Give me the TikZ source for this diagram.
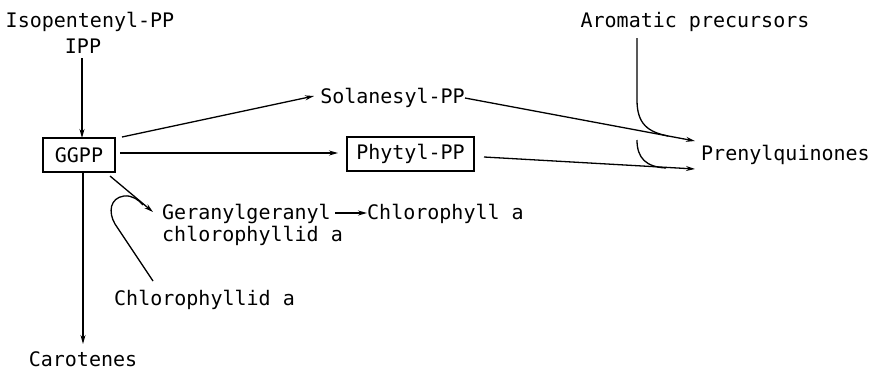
\documentclass[tikz,border=0pt]{standalone}
\usepackage{fontspec}
\newfontfamily\dmono{DejaVu Sans Mono}
\usetikzlibrary{arrows.meta}
\begin{document}
\begin{tikzpicture}[x=1pt,y=-1pt,
  txt/.style={inner sep=0pt, font=\dmono\fontsize{20}{22}\selectfont},
  boxnode/.style={draw, line width=1.5pt, inner sep=0pt, font=\dmono\fontsize{20}{22}\selectfont},
  conn/.style={line width=1.3pt},
  arr/.style={conn, -{Stealth[length=9pt,width=5pt]}}]
\useasboundingbox (0,0) rectangle (873,370);
% text nodes
\node[txt, anchor=base] (iso) at (90,27) {Isopentenyl-PP};
\node[txt, anchor=base] (ipp) at (83,53) {IPP};
\node[boxnode, minimum width=72pt, minimum height=34pt] (ggpp) at (79,155) {GGPP};
\node[boxnode, minimum width=127pt, minimum height=34pt] (phytyl) at (410.5,154) {Phytyl-PP};
\node[txt, anchor=base] (sol) at (392.5,103) {Solanesyl-PP};
\node[txt, anchor=base west] (pren) at (701,160) {Prenylquinones};
\node[txt, anchor=base] (arom) at (695,27) {Aromatic precursors};
\node[txt, anchor=base west] (gg1) at (162,219) {Geranylgeranyl};
\node[txt, anchor=base west] (gg2) at (162,241) {chlorophyllid a};
\node[txt, anchor=base west] (chla) at (367,219) {Chlorophyll a};
\node[txt, anchor=base west] (chlid) at (114,305) {Chlorophyllid a};
\node[txt, anchor=base] (car) at (83,366) {Carotenes};
% connector coordinates
\coordinate (ippout) at (82,58);
\coordinate (ggin) at (82,138);
\coordinate (ggdown) at (83,172);
\coordinate (carin) at (83,344);
\coordinate (ggsol) at (122,137);
\coordinate (solin) at (314,96);
\coordinate (ggph) at (120,153);
\coordinate (phin) at (338,153);
\coordinate (ggdiag) at (110,176);
\coordinate (gg1in) at (153,212);
\coordinate (gg1out) at (335,213);
\coordinate (chlain) at (367,213);
\coordinate (solout) at (465,98);
\coordinate (pr1) at (695,141);
\coordinate (phout) at (484,157);
\coordinate (pr2) at (695,169);
\coordinate (aromout) at (637,38);
\coordinate (aromj) at (668,136);
\coordinate (arom2s) at (637,140);
\coordinate (arom2j) at (666,168);
\coordinate (hooks) at (153,281);
\coordinate (hooke) at (143,205);
% connectors
\draw[arr] (ippout) -- (ggin);
\draw[arr] (ggdown) -- (carin);
\draw[arr] (ggsol) -- (solin);
\draw[arr] (ggph) -- (phin);
\draw[arr] (ggdiag) -- (gg1in);
\draw[arr] (gg1out) -- (chlain);
\draw[arr] (solout) -- (pr1);
\draw[arr] (phout) -- (pr2);
\draw[conn] (aromout) -- (637,100) .. controls (637,124) and (648,132) .. (aromj);
\draw[conn] (arom2s) .. controls (637,158) and (646,167) .. (arom2j);
\draw[conn] (hooks) -- (115,224) .. controls (108,212) and (110,198) .. (124,196) .. controls (132,195) and (139,200) .. (hooke);
\end{tikzpicture}
\end{document}
